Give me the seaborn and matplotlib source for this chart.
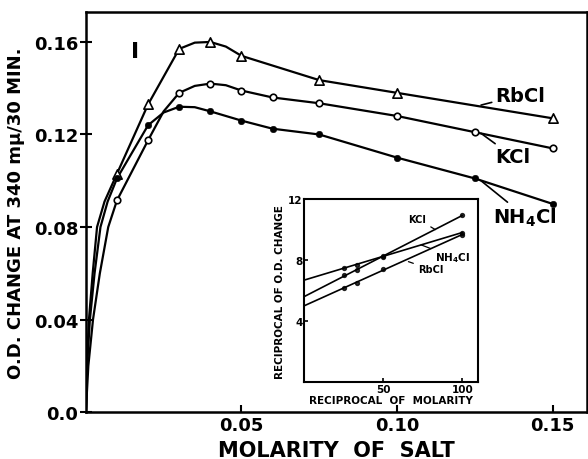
import matplotlib
matplotlib.use("Agg")
import matplotlib.pyplot as plt
import seaborn as sns

# main panel: molarity vs O.D. change (measured points)
molarity_rb = [0.01, 0.02, 0.03, 0.04, 0.05, 0.075, 0.10, 0.15]
od_rb = [0.103, 0.133, 0.157, 0.160, 0.154, 0.1435, 0.138, 0.127]

molarity_k = [0.01, 0.02, 0.03, 0.04, 0.05, 0.06, 0.075, 0.10, 0.125, 0.15]
od_k = [0.0915, 0.1175, 0.138, 0.142, 0.139, 0.136, 0.1335, 0.128, 0.121, 0.114]

molarity_nh4 = [0.01, 0.02, 0.03, 0.04, 0.05, 0.06, 0.075, 0.10, 0.125, 0.15]
od_nh4 = [0.101, 0.124, 0.132, 0.130, 0.126, 0.1225, 0.120, 0.110, 0.101, 0.090]

# extra points (no markers there)
trace_x_rb = [0.0, 0.0003, 0.0010, 0.0022, 0.0036, 0.006, 0.035, 0.045]
trace_y_rb = [0.0, 0.02, 0.04, 0.06, 0.08, 0.091, 0.1597, 0.158]
trace_x_nh4 = [0.0, 0.0004, 0.0013, 0.0028, 0.0047, 0.007, 0.025, 0.035, 0.045]
trace_y_nh4 = [0.0, 0.02, 0.04, 0.06, 0.08, 0.091, 0.1295, 0.1318, 0.128]
trace_x_k = [0.0, 0.0008, 0.0023, 0.0045, 0.0072, 0.025, 0.035, 0.045]
trace_y_k = [0.0, 0.02, 0.04, 0.06, 0.08, 0.1300, 0.1410, 0.1413]

# inset: reciprocal plot
recip_m = [25, 33.3, 50, 100]
recip_k = [7.0, 7.35, 8.2, 10.95]
recip_nh4 = [7.5, 7.65, 8.3, 9.8]
recip_rb = [6.15, 6.5, 7.45, 9.65]

sns.set_style("ticks")
plt.rcParams["font.family"] = ["DejaVu Sans"]
plt.rcParams["font.weight"] = "bold"
for key in ["text.color", "axes.labelcolor", "xtick.color", "ytick.color", "axes.edgecolor"]:
    plt.rcParams[key] = "black"

fig = plt.figure(figsize=(5.88, 4.6), dpi=100)
ax = fig.add_axes([0.146, 0.102, 0.852, 0.870])

lw = 1.6
for tx, ty, mx, my in [(trace_x_rb, trace_y_rb, molarity_rb, od_rb),
                       (trace_x_k, trace_y_k, molarity_k, od_k),
                       (trace_x_nh4, trace_y_nh4, molarity_nh4, od_nh4)]:
    sns.lineplot(x=tx + mx, y=ty + my, ax=ax, color="black", lw=lw, estimator=None)

sns.scatterplot(x=molarity_rb, y=od_rb, ax=ax, marker="^", s=45,
                facecolor="white", edgecolor="black", linewidth=1.2, zorder=3)
sns.scatterplot(x=molarity_k, y=od_k, ax=ax, marker="o", s=22,
                facecolor="white", edgecolor="black", linewidth=1.2, zorder=3)
sns.scatterplot(x=molarity_nh4, y=od_nh4, ax=ax, marker="o", s=22,
                color="black", edgecolor="black", zorder=3)

ax.set_xlim(0, 0.161)
ax.set_ylim(0, 0.173)
ax.set_xticks([0.05, 0.10, 0.15])
ax.set_xticklabels(["0.05", "0.10", "0.15"])
ax.set_yticks([0.0, 0.04, 0.08, 0.12, 0.16])
ax.set_yticklabels(["0.0", "0.04", "0.08", "0.12", "0.16"])
ax.tick_params(axis="x", direction="in", length=5, width=1.5, labelsize=13, pad=3)
ax.tick_params(axis="y", direction="inout", length=9, width=1.5, labelsize=13, pad=1)
for sp in ax.spines.values():
    sp.set_linewidth(1.8)
ax.set_xlabel("MOLARITY  OF  SALT", fontsize=15, fontweight="bold", labelpad=4)
ax.set_ylabel("O.D. CHANGE AT 340 mμ/30 MIN.", fontsize=13, fontweight="bold", labelpad=6)

ax.text(0.0145, 0.156, "I", fontsize=16, fontweight="bold", va="center")

arrow = dict(arrowstyle="-", color="black", lw=1.2, shrinkA=0, shrinkB=0)
ax.annotate("RbCl", xy=(0.127, 0.1327), xytext=(0.1315, 0.137), fontsize=14,
            fontweight="bold", va="center", arrowprops=arrow)
ax.annotate("KCl", xy=(0.127, 0.1205), xytext=(0.1315, 0.1105), fontsize=14,
            fontweight="bold", va="center", arrowprops=arrow)
ax.annotate(r"NH$_\mathbf{4}$Cl", xy=(0.127, 0.1000), xytext=(0.131, 0.0845), fontsize=14,
            fontweight="bold", va="center", arrowprops=arrow)

# inset
ins = fig.add_axes([0.517, 0.167, 0.296, 0.398])
ins.set_xlim(0, 100)
ins.set_ylim(0, 12)
dot = dict(s=8, color="black")
for yv in [recip_k, recip_nh4, recip_rb]:
    sns.regplot(x=recip_m, y=yv, ax=ins, ci=None, truncate=False,
                color="black", scatter_kws=dot, line_kws=dict(lw=1.2))
ins.set_xlim(0, 110)
ins.set_ylim(0, 12)
ins.set_xticks([50, 100])
ins.set_xticklabels(["50", "100"])
ins.set_yticks([4, 8, 12])
ins.set_yticklabels(["4", "8", "12"])
ins.tick_params(direction="in", length=3, width=1.2, labelsize=7.5, pad=1)
for sp in ins.spines.values():
    sp.set_linewidth(1.5)
ins.set_xlabel("RECIPROCAL  OF  MOLARITY", fontsize=7.5, fontweight="bold", labelpad=1)
ins.set_ylabel("RECIPROCAL OF O.D. CHANGE", fontsize=7.5, fontweight="bold", labelpad=2)

sarrow = dict(arrowstyle="-", color="black", lw=0.9, shrinkA=1, shrinkB=0)
ins.annotate("KCl", xy=(83, 10.0), xytext=(66, 10.7), fontsize=7, fontweight="bold",
             va="center", arrowprops=sarrow)
ins.annotate(r"NH$_\mathbf{4}$Cl", xy=(74, 9.0), xytext=(83, 8.2), fontsize=7.5,
             fontweight="bold", va="center", arrowprops=sarrow)
ins.annotate("RbCl", xy=(66, 7.9), xytext=(72, 7.4), fontsize=7, fontweight="bold",
             va="center", arrowprops=sarrow)

fig.savefig("out.png", dpi=100)
